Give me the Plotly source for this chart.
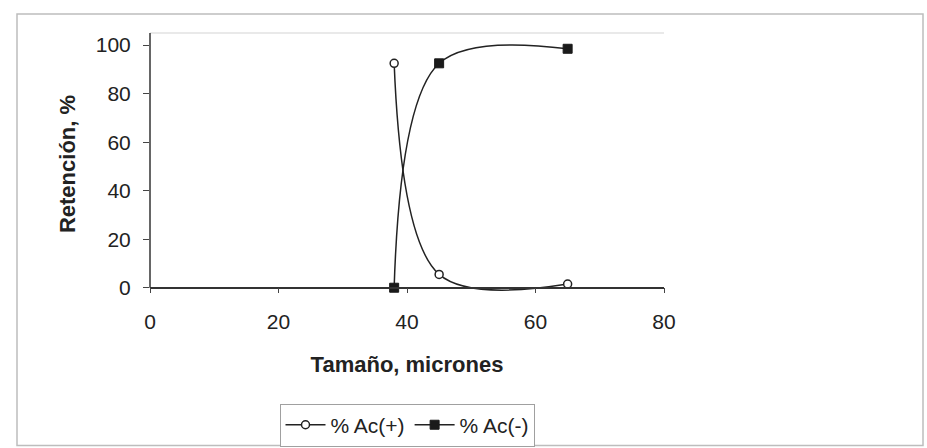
import plotly.graph_objects as go

sizes = [38, 45, 65]
ac_plus = [92.5, 5.5, 1.5]
ac_minus = [0, 92.5, 98.5]
x_ticks = [0, 20, 40, 60, 80]
y_ticks = [0, 20, 40, 60, 80, 100]

W, H = 927, 448
y_lo, y_hi = -3, 105
ml, mr, mt = 150, 263, 33
ph = (288 - mt) * (y_hi - y_lo) / y_hi
mb = H - mt - ph
pw = W - ml - mr

def px2x(px):
    return (px - ml) / pw

def px2y(py):
    return (H - mb - py) / ph

font = "Arial, Liberation Sans, sans-serif"

fig = go.Figure()
fig.add_trace(go.Scatter(
    x=sizes, y=ac_plus, name="% Ac(+)", mode="lines+markers",
    line=dict(color="#222222", width=1.5, shape="spline", smoothing=1.0),
    marker=dict(symbol="circle", size=8, color="white",
                line=dict(color="#222222", width=1.5)),
))
fig.add_trace(go.Scatter(
    x=sizes, y=ac_minus, name="% Ac(-)", mode="lines+markers",
    line=dict(color="#222222", width=1.5, shape="spline", smoothing=1.0),
    marker=dict(symbol="square", size=9, color="#1a1a1a",
                line=dict(color="#1a1a1a", width=1)),
))

shapes = [
    # outer chart frame
    dict(type="rect", xref="paper", yref="paper",
         x0=px2x(17), x1=px2x(923), y0=px2y(446), y1=px2y(14),
         line=dict(color="#bdbdbd", width=1.5), layer="below"),
    # plot area top border
    dict(type="line", xref="paper", yref="paper",
         x0=0, x1=1, y0=1, y1=1,
         line=dict(color="#d4d4d4", width=1.2)),
    # value axis line, from 0 to the top
    dict(type="line", xref="paper", yref="y",
         x0=0, x1=0, y0=0, y1=y_hi,
         line=dict(color="#333333", width=1.5)),
]

fig.update_layout(
    width=W, height=H,
    margin=dict(l=ml, r=mr, t=mt, b=mb, autoexpand=False),
    paper_bgcolor="white", plot_bgcolor="white",
    font=dict(family=font, size=21, color="#222222"),
    showlegend=True,
    legend=dict(orientation="h", x=0.5, xanchor="center",
                y=px2y(404), yanchor="top",
                bordercolor="#a0a0a0", borderwidth=1,
                font=dict(size=21), itemwidth=40),
    shapes=shapes,
    xaxis=dict(range=[0, 80], tickvals=x_ticks, ticks="outside", ticklen=5,
               ticklabelstandoff=10, anchor="free",
               position=(0 - y_lo) / (y_hi - y_lo),
               showline=True, linecolor="#333333", linewidth=1.5,
               showgrid=False, zeroline=False, automargin=False,
               title=dict(text="<b>Tamaño, micrones</b>", font=dict(size=22), standoff=24)),
    yaxis=dict(range=[y_lo, y_hi], tickvals=y_ticks, ticks="outside", ticklen=6,
               ticklabelstandoff=8,
               showline=False,
               showgrid=False, zeroline=False, automargin=False,
               title=dict(text="<b>Retención, %</b>", font=dict(size=22), standoff=14)),
)

fig.write_html("out.html")
